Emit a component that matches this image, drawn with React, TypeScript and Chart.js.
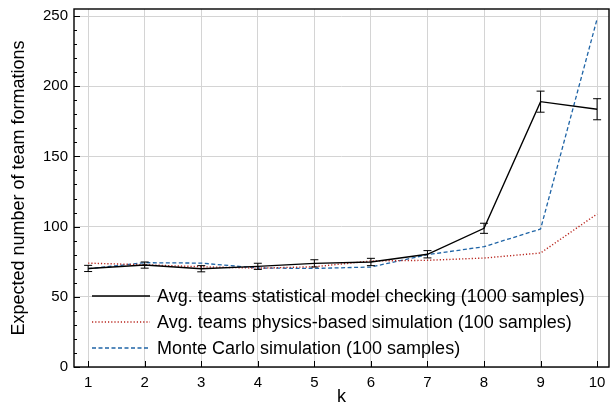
import React, { useEffect, useRef } from "react";
import { Chart, registerables } from "chart.js";

Chart.register(...registerables);

const kValues = [1, 2, 3, 4, 5, 6, 7, 8, 9, 10];
const statModel = [70.2, 72.6, 70.0, 71.7, 73.8, 74.8, 80.3, 98.8, 189.0, 183.6];
const statErr = [2.2, 2.2, 2.2, 2.2, 2.6, 2.6, 2.6, 3.6, 7.5, 7.5];
const physSim = [74.0, 72.8, 71.4, 70.4, 71.4, 75.5, 76.0, 77.6, 81.2, 109.0];
const monteCarlo = [70.0, 74.3, 74.0, 70.5, 70.2, 71.2, 80.0, 85.7, 98.3, 248.0];
const yTicks = [0, 50, 100, 150, 200, 250];
const legendLabels = [
  "Avg. teams statistical model checking (1000 samples)",
  "Avg. teams physics-based simulation (100 samples)",
  "Monte Carlo simulation (100 samples)",
];

const FONT = "'Liberation Sans', Arial, sans-serif";
const RED = "#b8241c";
const BLUE = "#1f64a6";

export default function App() {
  const ref = useRef<HTMLCanvasElement | null>(null);

  useEffect(() => {
    document.body.style.margin = "0";
    const canvas = ref.current!;
    const toPts = (arr: number[]) => arr.map((v, i) => ({ x: kValues[i], y: v }));

    const errorBars = {
      id: "errorBars",
      afterDatasetsDraw(chart: any) {
        const { ctx, scales } = chart;
        const xs = scales.x, ys = scales.y;
        ctx.save();
        ctx.strokeStyle = "#000";
        ctx.lineWidth = 1;
        statModel.forEach((v, i) => {
          const px = xs.getPixelForValue(kValues[i]);
          const top = ys.getPixelForValue(v + statErr[i]);
          const bot = ys.getPixelForValue(v - statErr[i]);
          ctx.beginPath();
          ctx.moveTo(px, top);
          ctx.lineTo(px, bot);
          ctx.moveTo(px - 4, top);
          ctx.lineTo(px + 4, top);
          ctx.moveTo(px - 4, bot);
          ctx.lineTo(px + 4, bot);
          ctx.stroke();
        });
        ctx.restore();
      },
    };

    const frame = {
      id: "frame",
      afterDraw(chart: any) {
        const { ctx, chartArea: a, scales } = chart;
        const xs = scales.x, ys = scales.y;
        ctx.save();
        ctx.strokeStyle = "#000";
        ctx.lineWidth = 1;
        kValues.forEach((k) => {
          const px = Math.round(xs.getPixelForValue(k)) + 0.5;
          ctx.beginPath();
          ctx.moveTo(px, a.bottom);
          ctx.lineTo(px, a.bottom - 6);
          ctx.stroke();
        });
        for (let v = 0; v <= 250; v += 10) {
          const py = Math.round(ys.getPixelForValue(v)) + 0.5;
          const len = v % 50 === 0 ? 6 : 3;
          ctx.beginPath();
          ctx.moveTo(a.left, py);
          ctx.lineTo(a.left + len, py);
          ctx.stroke();
        }
        ctx.lineWidth = 1.4;
        ctx.strokeRect(a.left, a.top, a.right - a.left, a.bottom - a.top);

        const styles = [
          { color: "#000", dash: [] as number[], width: 1.4 },
          { color: RED, dash: [1.2, 2], width: 1.4 },
          { color: BLUE, dash: [4, 2.5], width: 1.3 },
        ];
        ctx.font = `18px ${FONT}`;
        ctx.textBaseline = "middle";
        ctx.textAlign = "left";
        legendLabels.forEach((lab, i) => {
          const y = 296 + i * 26;
          ctx.beginPath();
          ctx.setLineDash(styles[i].dash);
          ctx.strokeStyle = styles[i].color;
          ctx.lineWidth = styles[i].width;
          ctx.moveTo(92, y);
          ctx.lineTo(150, y);
          ctx.stroke();
          ctx.setLineDash([]);
          ctx.fillStyle = "#000";
          ctx.fillText(lab, 157, y + 1);
        });
        ctx.restore();
      },
    };

    const chart = new Chart(canvas, {
      type: "line",
      data: {
        datasets: [
          {
            label: legendLabels[0],
            data: toPts(statModel),
            borderColor: "#000",
            borderWidth: 1.4,
            pointRadius: 0,
            fill: false,
          },
          {
            label: legendLabels[1],
            data: toPts(physSim),
            borderColor: RED,
            borderWidth: 1.4,
            borderDash: [1.2, 2],
            pointRadius: 0,
            fill: false,
          },
          {
            label: legendLabels[2],
            data: toPts(monteCarlo),
            borderColor: BLUE,
            borderWidth: 1.3,
            borderDash: [4, 2.5],
            pointRadius: 0,
            fill: false,
          },
        ],
      },
      options: {
        animation: false,
        responsive: false,
        layout: { padding: { top: 9, right: 3, left: 0, bottom: 0 } },
        plugins: {
          legend: { display: false },
          tooltip: { enabled: false },
        },
        scales: {
          x: {
            type: "linear",
            min: 0.75,
            max: 10.21,
            afterBuildTicks: (s: any) => {
              s.ticks = kValues.map((v) => ({ value: v }));
            },
            afterFit: (s: any) => {
              s.height = 41;
              s.paddingLeft = 0;
              s.paddingRight = 0;
            },
            grid: { color: "#d4d4d4", drawTicks: false, lineWidth: 1 },
            border: { display: false },
            ticks: {
              color: "#000",
              font: { family: FONT, size: 15 },
              padding: 7,
              callback: (v: any) => String(v),
            },
            title: {
              display: true,
              text: "k",
              color: "#000",
              font: { family: FONT, size: 18 },
              padding: { top: 0, bottom: 0 },
            },
          },
          y: {
            type: "linear",
            min: 0,
            max: 255,
            afterBuildTicks: (s: any) => {
              s.ticks = yTicks.map((v) => ({ value: v }));
            },
            afterFit: (s: any) => {
              s.width = 74;
              s.paddingTop = 0;
              s.paddingBottom = 0;
            },
            grid: { color: "#d4d4d4", drawTicks: false, lineWidth: 1 },
            border: { display: false },
            ticks: {
              color: "#000",
              font: { family: FONT, size: 15 },
              padding: 6,
            },
            title: {
              display: true,
              text: "Expected number of team formations",
              color: "#000",
              font: { family: FONT, size: 18 },
              padding: { top: 8, bottom: 0 },
            },
          },
        },
      },
      plugins: [errorBars, frame],
    } as any);

    return () => chart.destroy();
  }, []);

  return (
    <div style={{ position: "fixed", left: 0, top: 0, width: 612, height: 408, background: "#fff" }}>
      <canvas ref={ref} width={612} height={408} style={{ width: 612, height: 408 }} />
    </div>
  );
}
